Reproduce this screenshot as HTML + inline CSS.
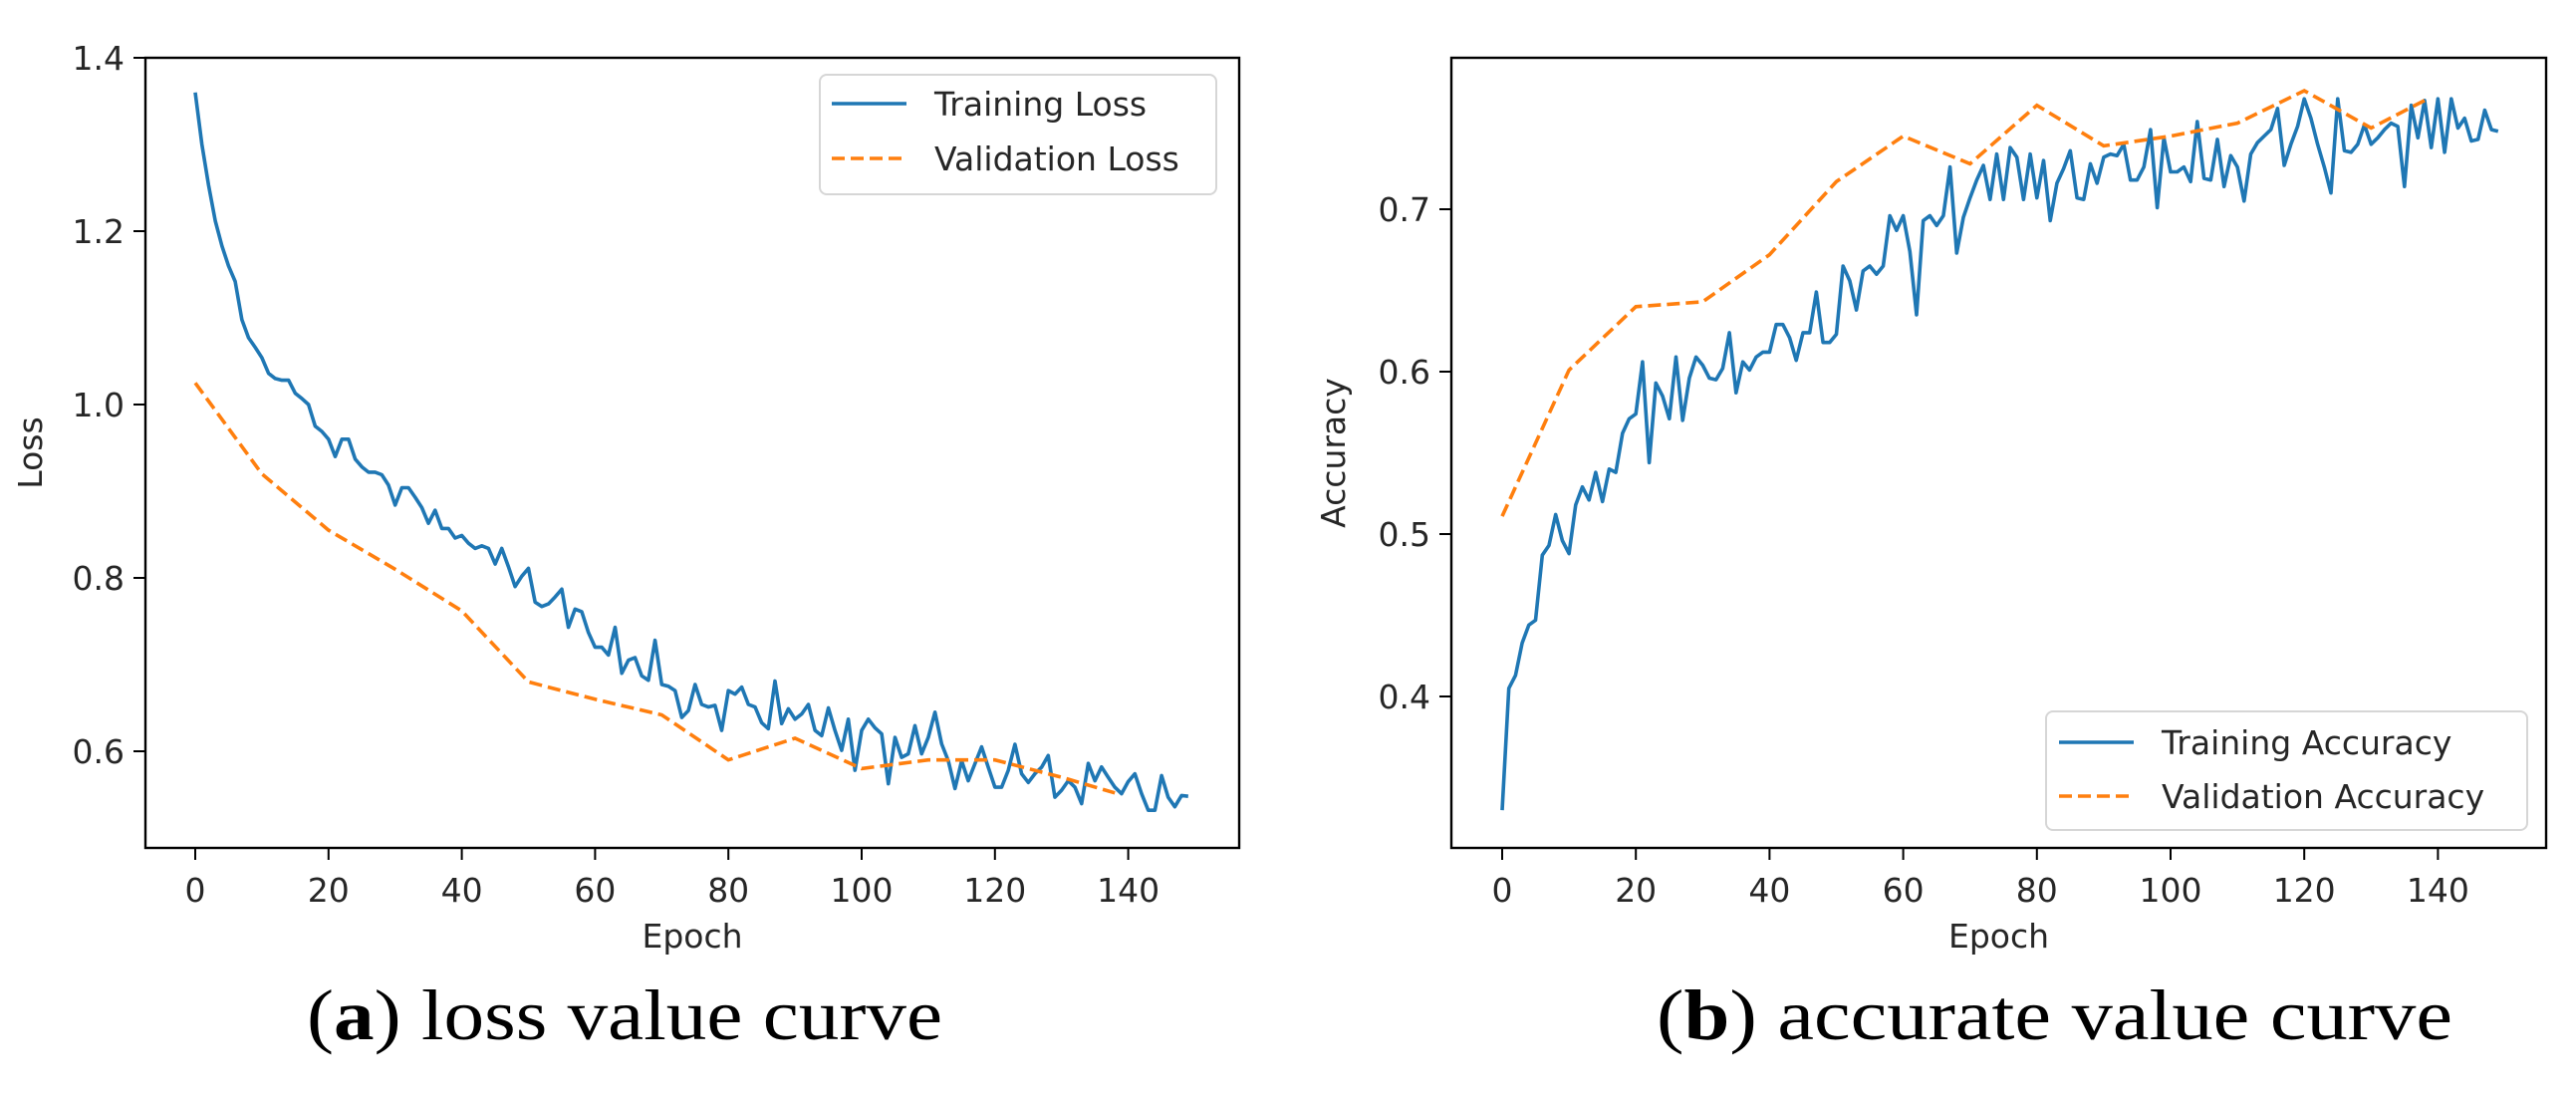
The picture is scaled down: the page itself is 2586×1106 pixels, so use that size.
<!DOCTYPE html>
<html><head><meta charset="utf-8"><style>
html,body{margin:0;padding:0;background:#fff;}
svg{display:block;}
text{font-family:"DejaVu Sans","Liberation Sans",sans-serif;fill:#262626;}
.cap{font-family:"Liberation Serif",serif;fill:#000;}
</style></head><body>
<svg id="fig" width="2586" height="1106" viewBox="0 0 2586 1106" xmlns="http://www.w3.org/2000/svg">
<rect width="2586" height="1106" fill="#fff"/>
<g id="pa"></g>
<g id="pb"></g>
<text class="cap" x="308" y="1043" font-size="72" textLength="638" lengthAdjust="spacingAndGlyphs">(<tspan font-weight="bold">a</tspan>) loss value curve</text>
<text class="cap" x="1663" y="1043" font-size="72" textLength="799" lengthAdjust="spacingAndGlyphs">(<tspan font-weight="bold">b</tspan>) accurate value curve</text>
</svg>
<script>
const xTicks=[0,20,40,60,80,100,120,140];
const lossTicks=[0.6,0.8,1.0,1.2,1.4];
const accTicks=[0.4,0.5,0.6,0.7];
const trainLoss=[1.36,1.30,1.253,1.212,1.183,1.16,1.142,1.098,1.077,1.066,1.054,1.036,1.03,1.028,1.028,1.013,1.007,1.0,0.975,0.969,
0.96,0.94,0.96,0.96,0.937,0.928,0.922,0.922,0.919,0.907,0.884,0.904,0.904,0.893,0.881,0.863,0.878,0.857,0.857,0.846,
0.849,0.84,0.834,0.837,0.834,0.816,0.834,0.813,0.79,0.802,0.811,0.772,0.767,0.77,0.778,0.787,0.743,0.764,0.761,0.737,
0.72,0.72,0.711,0.743,0.69,0.705,0.708,0.687,0.682,0.728,0.677,0.675,0.670,0.639,0.647,0.677,0.654,0.651,0.653,0.624,
0.670,0.666,0.674,0.654,0.651,0.633,0.626,0.681,0.632,0.649,0.637,0.643,0.654,0.624,0.618,0.65,0.624,0.601,0.637,0.578,
0.624,0.637,0.627,0.62,0.5625,0.616,0.593,0.597,0.6295,0.597,0.616,0.645,0.6085,0.589,0.557,0.589,0.566,0.5855,0.605,0.5815,
0.5585,0.5585,0.578,0.608,0.574,0.564,0.574,0.5815,0.595,0.547,0.555,0.566,0.5585,0.5395,0.586,0.566,0.582,0.57,0.5585,0.551,
0.565,0.574,0.551,0.532,0.532,0.572,0.547,0.536,0.549,0.548];
const valEpochs=[0,10,20,30,40,50,60,70,80,90,100,110,120,130,138];
const valLoss=[1.025,0.92,0.855,0.81,0.762,0.68,0.66,0.642,0.59,0.615,0.58,0.59,0.59,0.57,0.552];
const trainAcc=[0.330,0.405,0.413,0.433,0.444,0.447,0.487,0.493,0.512,0.496,0.488,0.518,0.529,0.521,0.538,0.52,0.54,0.538,0.562,0.571,
0.574,0.606,0.544,0.593,0.585,0.571,0.609,0.57,0.596,0.609,0.604,0.596,0.595,0.602,0.624,0.587,0.606,0.601,0.609,0.612,
0.612,0.629,0.629,0.621,0.607,0.624,0.624,0.649,0.618,0.618,0.623,0.665,0.656,0.638,0.662,0.665,0.66,0.665,0.696,0.687,
0.696,0.674,0.635,0.693,0.696,0.69,0.696,0.726,0.673,0.695,0.707,0.718,0.727,0.706,0.734,0.706,0.738,0.732,0.706,0.734,
0.707,0.73,0.693,0.716,0.725,0.736,0.707,0.706,0.728,0.716,0.732,0.734,0.733,0.74,0.718,0.718,0.726,0.749,0.701,0.744,
0.723,0.723,0.726,0.717,0.754,0.719,0.718,0.743,0.714,0.733,0.726,0.705,0.734,0.741,0.745,0.749,0.762,0.727,0.74,0.751,
0.768,0.756,0.74,0.726,0.71,0.768,0.736,0.735,0.74,0.752,0.74,0.744,0.749,0.753,0.751,0.714,0.764,0.744,0.767,0.738,
0.768,0.735,0.768,0.75,0.756,0.742,0.743,0.761,0.749,0.748];
const valAcc=[0.511,0.601,0.64,0.643,0.672,0.717,0.745,0.728,0.764,0.739,0.745,0.753,0.773,0.75,0.767];

const NS='http://www.w3.org/2000/svg';
function mk(p,tag,attrs){const e=document.createElementNS(NS,tag);for(const k in attrs)e.setAttribute(k,attrs[k]);p.appendChild(e);return e;}

function chart(g,cfg){
  const {L,R,T,B,x0,xs,y0v,y0p,ys}=cfg;
  const X=e=>x0+e*xs;
  const Y=v=>y0p-(v-y0v)*ys;
  // lines
  const tp=cfg.train.map((v,i)=>X(i).toFixed(1)+','+Y(v).toFixed(1)).join(' ');
  const l1=mk(g,'polyline',{points:tp,fill:'none',stroke:'#1f77b4','stroke-width':3.6,'stroke-linejoin':'round'});
  
  
  const vp=cfg.val.map((v,i)=>X(valEpochs[i]).toFixed(1)+','+Y(v).toFixed(1)).join(' ');
  const l2=mk(g,'polyline',{points:vp,fill:'none',stroke:'#ff7f0e','stroke-width':3.6,'stroke-dasharray':'13,6'});
  
  
  // frame
  const fr=mk(g,'rect',{x:L,y:T,width:R-L,height:B-T,fill:'none',stroke:'#000','stroke-width':2.4});
  
  
  // x ticks
  xTicks.forEach(t=>{
    const x=X(t);
    const tk=mk(g,'line',{x1:x,x2:x,y1:B,y2:B+12,stroke:'#000','stroke-width':2});
    
    
    const tx=mk(g,'text',{x:x,y:B+54,'font-size':33,'text-anchor':'middle'});
    tx.textContent=t;
    
    
  });
  cfg.yTicks.forEach(t=>{
    const y=Y(t);
    const tk=mk(g,'line',{x1:L-12,x2:L,y1:y,y2:y,stroke:'#000','stroke-width':2});
    
    
    const tx=mk(g,'text',{x:L-21,y:y+12,'font-size':33,'text-anchor':'end'});
    tx.textContent=t.toFixed(1);
    
    
  });
  const xl=mk(g,'text',{x:(L+R)/2,y:B+100,'font-size':33,'text-anchor':'middle'});
  xl.textContent='Epoch';
  
  
  const yl=mk(g,'text',{x:0,y:0,'font-size':33,'text-anchor':'middle',transform:`translate(${cfg.ylx},${(T+B)/2}) rotate(-90)`});
  yl.textContent=cfg.ylabel;
  
  
  // legend
  const lg=cfg.leg;
  const lgg=mk(g,'g',{});
  
  
  mk(lgg,'rect',{x:lg.x,y:lg.y,width:lg.w,height:lg.h,rx:7,fill:'#fff','fill-opacity':0.85,stroke:'#d6d6d6','stroke-width':2});
  const e1=mk(lgg,'g',{});
  
  
  mk(e1,'line',{x1:lg.hx,x2:lg.hx+75,y1:lg.r1,y2:lg.r1,stroke:'#1f77b4','stroke-width':3.6});
  const t1=mk(e1,'text',{x:lg.tx,y:lg.r1+12,'font-size':33});t1.textContent=cfg.leg1;
  const e2=mk(lgg,'g',{});
  
  
  mk(e2,'line',{x1:lg.hx,x2:lg.hx+75,y1:lg.r2,y2:lg.r2,stroke:'#ff7f0e','stroke-width':3.6,'stroke-dasharray':'13,6'});
  const t2=mk(e2,'text',{x:lg.tx,y:lg.r2+12,'font-size':33});t2.textContent=cfg.leg2;
}

chart(document.getElementById('pa'),{L:146,R:1244,T:58,B:851,x0:196,xs:6.69,y0v:1.4,y0p:58,ys:870,
  train:trainLoss,val:valLoss,yTicks:lossTicks,ylabel:'Loss',ylx:42,trainName:'training-loss-line',valName:'validation-loss-line',
  leg1:'Training Loss',leg2:'Validation Loss',leg:{x:823,y:75,w:398,h:120,hx:835,tx:938,r1:104,r2:159}});
chart(document.getElementById('pb'),{L:1457,R:2556,T:58,B:851,x0:1508,xs:6.71,y0v:0.7,y0p:210,ys:1630,
  train:trainAcc,val:valAcc,yTicks:accTicks,ylabel:'Accuracy',ylx:1350,trainName:'training-accuracy-line',valName:'validation-accuracy-line',
  leg1:'Training Accuracy',leg2:'Validation Accuracy',leg:{x:2054,y:714,w:483,h:119,hx:2067,tx:2170,r1:745,r2:799}});
</script>
</body></html>
